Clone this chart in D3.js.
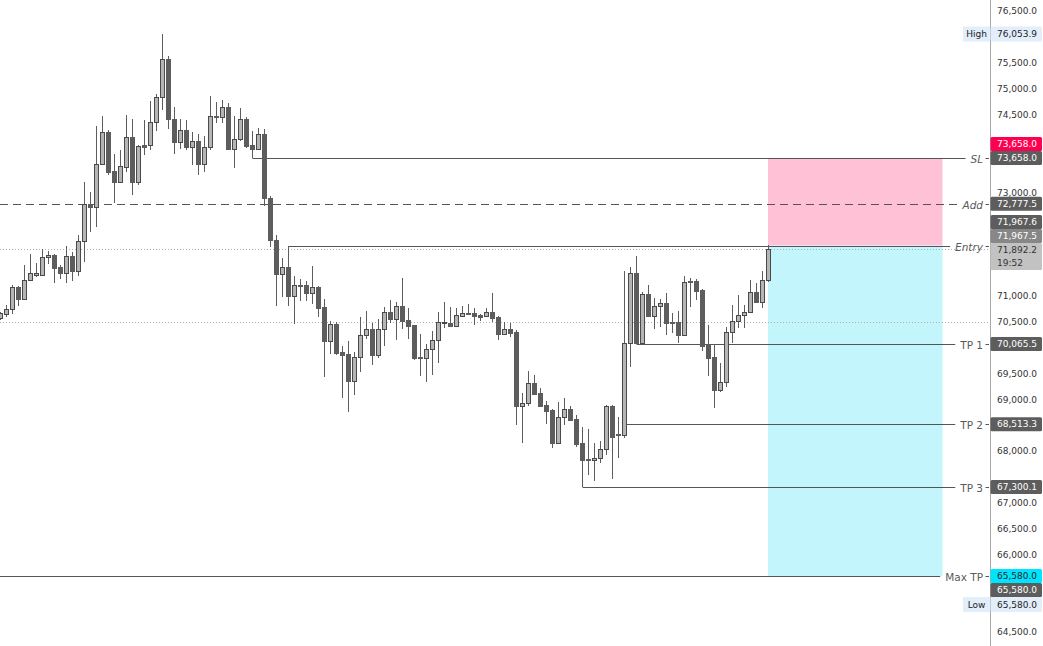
<!DOCTYPE html>
<html><head><meta charset="utf-8">
<script src="https://cdn.jsdelivr.net/npm/d3@7"></script>
<style>html,body{margin:0;padding:0;background:#fff;}svg{display:block;}</style>
</head><body><svg id="c" width="1043" height="646"></svg>
<script>
// ---- data ----
const opens  = [70567,70645,70741,71167,70935,71302,71398,71398,71747,71785,71553,71437,71766,71476,72056,72771,72713,73544,74162,73408,
73196,73486,74065,73196,73911,73911,74355,74838,75573,74413,73969,74200,73872,73988,73544,73872,74471,74452,74645,73833,
74027,74413,73911,73833,74123,72887,72075,71418,71553,70993,71205,71205,71051,71167,70780,70123,70452,69911,69872,69350,
69814,70239,70355,69853,70355,70683,70548,70800,70529,70432,69814,69795,69969,70142,70471,70471,70413,70606,70664,70664,
70625,70606,70683,70587,70258,70355,70297,68867,68925,69311,69118,68887,68790,68152,68655,68810,68616,68152,67843,67824,
67863,68036,68867,68326,68307,70084,71437,70084,71032,70606,70800,70858,70490,70490,70239,71283,71283,71109,70065,69814,
69176,69331,70297,70510,70625,70683,71070,70877,71302];
const highs  = [70680,70819,71205,71180,71592,71805,71630,71901,71862,71800,71592,71959,71843,72172,73196,73003,74278,74471,74200,73737,
73814,74490,74413,73911,74394,74761,74896,76053.9,75630,74645,74413,74394,74162,74123,74084,74857,74740,74780,74722,74471,
74626,74452,74181,74239,74220,72926,72172,71727,71967.6,71379,71321,71283,71572,71180,70935,70510,70490,70026,70123,69911,
70587,70703,70471,70548,70780,70915,70877,71340,70761,70440,70258,70065,70316,70683,70877,70780,70761,70800,70838,70761,
70645,70761,71051,70606,70490,70471,70336,69118,69543,69466,69215,68964,68800,68945,69022,68867,68693,68461,68423,68152,
68191,68887,68887,68655,71476,71553,71766,71070,71205,70954,70940,71051,70664,70703,71379,71340,71330,71120,70432,70065,
69698,70394,70819,71012,70819,71302,71244,71476,71975];
const lows   = [70529,70587,70645,70800,70920,71290,71360,71390,71611,71244,71321,71244,71283,71379,71650,72230,72326,73530,73331,72790,
73176,73389,72945,73138,73717,73814,74181,74587,74220,73737,73833,73814,73524,73331,73389,73814,74336,74336,73814,73466,
73988,73853,73658,73825,72732,71940,70800,70974,70800,70445,70896,70896,70838,70587,69427,69872,69853,69022,68751,69080,
69524,70162,69659,69795,70026,70471,70142,70355,70162,69756,69447,69331,69466,69698,70374,70400,70394,70587,70625,70432,
70510,70587,70490,70142,70250,70200,68500,68152,68867,69090,68860,68520,68056,68140,68500,68590,68075,67300.1,67534,67418,
67766,67920,67457,67863,68249,69621,70065.5,70070,70587,70355,70394,70239,70278,70080,70220,70780,70915,69930,69447,68829,
69138,69234,70084,70374,70374,70670,70858,70761,71263];
const closes = [70664,70741,71167,70935,71302,71437,71437,71747,71785,71534,71437,71766,71476,72056,72771,72713,73544,74162,73389,73196,
73505,74065,73196,73891,73872,74355,74838,75573,74413,73969,74200,73872,73988,73544,73872,74471,74452,74645,73833,74027,
74413,73891,73833,74123,72887,72075,71418,71553,70993,71205,71186,71051,71167,70761,70123,70452,69891,69853,69350,69814,
70239,70355,69853,70355,70683,70548,70800,70510,70413,69795,69795,69969,70142,70490,70490,70413,70625,70664,70645,70606,
70587,70683,70567,70258,70355,70278,68867,68925,69311,69099,68867,68771,68152,68655,68810,68597,68133,67824,67824,67863,
68036,68867,68268,68307,70084,71437,70084,71032,70606,70800,70858,70471,70471,70239,71263,71263,71089,70026,69795,69176,
69331,70297,70510,70625,70683,71070,70877,71302,71892.2];

const levelNames  = ["SL", "Add", "Entry", "TP 1", "TP 2", "TP 3", "Max TP"];
const levelPrices = [73658.0, 72777.5, 71967.5, 70065.5, 68513.3, 67300.1, 65580.0];
const levelStartBar = [42, 0, 48, 106, 104, 97, 0];

const tickValues = d3.range(64500, 76501, 500);
const highPrice = 76053.9, lowPrice = 65580.0;
const lastPrice = 71892.2, countdown = "19:52";
const guidePrice = 70500.0;
const boxStartBar = 128, boxEndBar = 157;

// ---- styles / layout ----
const W = 1043, H = 646, axisX = 990;
const FONT = "DejaVu Sans, Verdana, sans-serif";
const y = d3.scaleLinear().domain([64500, 76500]).range([632, 11]);
const x = d3.scaleLinear().domain([0, 128]).range([0.5, 768.5]);
const fmt = d3.format(",.1f");
const svg = d3.select("#c");
const plot = svg.append("g");

// risk / reward boxes
const entryP = levelPrices[2], slP = levelPrices[0], maxP = levelPrices[6];
plot.append("rect").attr("x", x(boxStartBar) - 0.5).attr("width", x(boxEndBar) - x(boxStartBar) + 0.5)
  .attr("y", y(slP)).attr("height", y(entryP) - y(slP)).attr("fill", "#ffc1d6");
plot.append("rect").attr("x", x(boxStartBar) - 0.5).attr("width", x(boxEndBar) - x(boxStartBar) + 0.5)
  .attr("y", y(entryP)).attr("height", y(maxP) - y(entryP)).attr("fill", "#c2f5fc");

// dotted guide lines
[lastPrice, guidePrice].forEach(p => {
  const yy = Math.round(y(p)) + 0.5;
  plot.append("line").attr("x1", 0).attr("x2", axisX).attr("y1", yy).attr("y2", yy)
    .attr("stroke", "#b0b0b0").attr("stroke-dasharray", "1,2");
});

// level lines + labels
const italic = {"SL": true, "Add": true, "Entry": true};
levelNames.forEach((name, i) => {
  const yy = Math.round(y(levelPrices[i])) + 0.5;
  const t = svg.append("text").attr("x", 983).attr("y", yy).attr("text-anchor", "end")
    .attr("dominant-baseline", "central").attr("font-family", FONT).attr("font-size", 10.5)
    .attr("font-style", italic[name] ? "italic" : "normal").attr("fill", "#5a5a5a").text(name);
  const w = t.node().getComputedTextLength();
  const xs = levelStartBar[i] === 0 ? 0 : x(levelStartBar[i]);
  plot.append("line").attr("x1", xs).attr("x2", 983 - w - 5).attr("y1", yy).attr("y2", yy)
    .attr("stroke", "#555").attr("stroke-width", 1)
    .attr("stroke-dasharray", name === "Add" ? "8,5" : null);
  svg.append("line").attr("x1", 985.5).attr("x2", 989).attr("y1", yy).attr("y2", yy).attr("stroke", "#555");
});

// candles
const n = opens.length;
const cg = plot.append("g");
for (let i = 0; i < n; i++) {
  const o = opens[i], c = closes[i], h = highs[i], l = lows[i];
  const up = c >= o;
  const xc = x(i);
  const col = "#5d5d5d";
  cg.append("line").attr("x1", xc).attr("x2", xc).attr("y1", Math.round(y(h))).attr("y2", Math.round(y(l)))
    .attr("stroke", col).attr("stroke-width", 1);
  const top = Math.round(y(Math.max(o, c))) + 0.5;
  const bot = Math.round(y(Math.min(o, c))) + 0.5;
  cg.append("rect").attr("x", xc - 2).attr("width", 4).attr("y", top).attr("height", Math.max(1, bot - top))
    .attr("fill", up ? "#b5b5b5" : col).attr("stroke", up ? "#4a4a4a" : col).attr("stroke-width", 1);
}

// ---- price tags (positions computed first so hidden axis labels can be skipped) ----
const dark = "#5d5d5d";
const lastTop = y(lastPrice) - 6.5;
const tags = [
  {cy: y(highPrice), text: fmt(highPrice), bg: "#e3eefb", fg: "#222", h: 15, side: "High"},
  {cy: y(slP) - 14, text: fmt(slP), bg: "#ff0050", fg: "#fff"},
  {cy: y(slP), text: fmt(slP), bg: dark, fg: "#fff"},
  {cy: y(levelPrices[1]), text: fmt(levelPrices[1]), bg: dark, fg: "#fff"},
  {cy: lastTop - 21, text: fmt(highs[48]), bg: dark, fg: "#fff"},
  {cy: lastTop - 7, text: fmt(levelPrices[2]), bg: "#878787", fg: "#fff"},
  {cy: lastTop + 13.5, text: fmt(lastPrice), bg: "#c2c2c2", fg: "#333", h: 27, sub: countdown},
  {cy: y(levelPrices[3]), text: fmt(levelPrices[3]), bg: dark, fg: "#fff"},
  {cy: y(levelPrices[4]), text: fmt(levelPrices[4]), bg: dark, fg: "#fff"},
  {cy: y(levelPrices[5]), text: fmt(levelPrices[5]), bg: dark, fg: "#fff"},
  {cy: y(maxP), text: fmt(maxP), bg: "#00e5ff", fg: "#222"},
  {cy: y(maxP) + 14, text: fmt(maxP), bg: dark, fg: "#fff"},
  {cy: y(lowPrice) + 28.5, text: fmt(lowPrice), bg: "#e3eefb", fg: "#222", h: 15, side: "Low"}
];
tags.forEach(t => { t.h = t.h || 14; t.top = t.cy - t.h / 2; t.bot = t.cy + t.h / 2; });

// right price axis
svg.append("rect").attr("x", axisX).attr("y", 0).attr("width", W - axisX).attr("height", H).attr("fill", "#fff");
svg.append("line").attr("x1", axisX + 0.5).attr("x2", axisX + 0.5).attr("y1", 0).attr("y2", H)
  .attr("stroke", "#a8a8a8");
// axis labels that sit mostly under a tag are covered (as in the reference), so skip them
const visibleTicks = tickValues.filter(v => {
  const a = y(v) - 4.5, b = y(v) + 4.5;
  return !tags.some(t => Math.min(b, t.bot) - Math.max(a, t.top) > 0.5);
});
const axis = d3.axisRight(y).tickValues(visibleTicks).tickFormat(fmt).tickSize(0).tickPadding(7);
const ag = svg.append("g").attr("transform", `translate(${axisX},0)`).call(axis);
ag.select(".domain").remove();
ag.selectAll("text").attr("font-family", FONT).attr("font-size", 9).attr("fill", "#333");

// draw tags
tags.forEach(t => {
  if (t.side) {
    svg.append("rect").attr("x", axisX - 27).attr("y", t.top).attr("width", 27).attr("height", t.h)
      .attr("fill", "#e3eefb");
    svg.append("text").attr("x", axisX - 13.5).attr("y", t.cy).attr("text-anchor", "middle")
      .attr("dominant-baseline", "central").attr("font-family", FONT).attr("font-size", 9)
      .attr("fill", "#222").text(t.side);
  }
  svg.append("rect").attr("x", axisX + 0.5).attr("y", t.top).attr("width", 51.5).attr("height", t.h)
    .attr("rx", 1.5).attr("fill", t.bg);
  if (t.sub) {
    svg.append("text").attr("x", 997).attr("y", t.top + 7).attr("dominant-baseline", "central")
      .attr("font-family", FONT).attr("font-size", 9).attr("fill", t.fg).text(t.text);
    svg.append("text").attr("x", 997).attr("y", t.top + 20).attr("dominant-baseline", "central")
      .attr("font-family", FONT).attr("font-size", 9).attr("fill", t.fg).text(t.sub);
  } else {
    svg.append("text").attr("x", 997).attr("y", t.cy).attr("dominant-baseline", "central")
      .attr("font-family", FONT).attr("font-size", 9).attr("fill", t.fg).text(t.text);
  }
});
</script></body></html>
